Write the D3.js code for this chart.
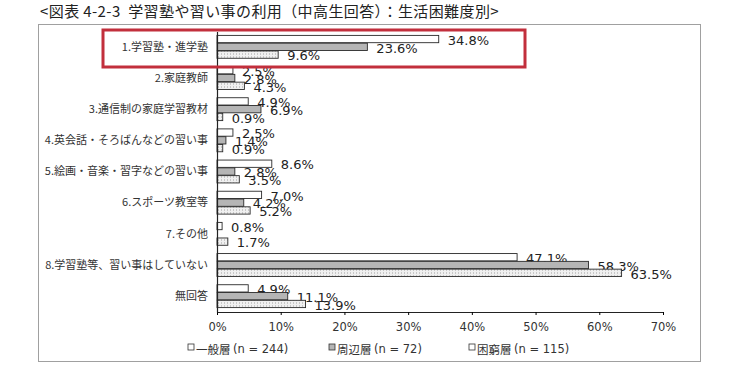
<!DOCTYPE html>
<html>
<head>
<meta charset="utf-8">
<script src="https://cdn.jsdelivr.net/npm/d3@7"></script>
<style>
  body { margin: 0; background: #fff; }
  svg { display: block; }
</style>
</head>
<body>
<div id="chart"></div>
<script>
// Data
const categories = [
  "1.学習塾・進学塾",
  "2.家庭教師",
  "3.通信制の家庭学習教材",
  "4.英会話・そろばんなどの習い事",
  "5.絵画・音楽・習字などの習い事",
  "6.スポーツ教室等",
  "7.その他",
  "8.学習塾等、習い事はしていない",
  "無回答"
];
const seriesGroups = ["一般層", "周辺層", "困窮層"];
const seriesN = ["(n = 244)", "(n = 72)", "(n = 115)"];
const ippan   = [34.8, 2.5, 4.9, 2.5, 8.6, 7.0, 0.8, 47.1, 4.9];
const shuhen  = [23.6, 2.8, 6.9, 1.4, 2.8, 4.2, null, 58.3, 11.1];
const konkyu  = [9.6, 4.3, 0.9, 0.9, 3.5, 5.2, 1.7, 63.5, 13.9];
const xTicks = [0, 10, 20, 30, 40, 50, 60, 70];
const title = "<図表 4-2-3  学習塾や習い事の利用（中高生回答）：生活困難度別>";

const width = 736, height = 378;
const margin = { top: 31.5, left: 217, right: 73, bottom: 66 };
const innerWidth = width - margin.left - margin.right;
const innerHeight = height - margin.top - margin.bottom;

const seriesValues = [ippan, shuhen, konkyu];
const fills = ["#ffffff", "#b5b5b5", "url(#dots)"];

const svg = d3.select("#chart")
  .append("svg")
  .attr("width", width)
  .attr("height", height);

// dotted pattern for the third series
const pat = svg.append("defs").append("pattern")
  .attr("id", "dots")
  .attr("width", 3).attr("height", 3)
  .attr("patternUnits", "userSpaceOnUse");
pat.append("rect").attr("width", 3).attr("height", 3).attr("fill", "#f0f0f0");
pat.append("rect").attr("x", 1).attr("y", 1).attr("width", 1).attr("height", 1).attr("fill", "#a0a0a0");

// title
svg.append("text")
  .attr("x", 40).attr("y", 17)
  .attr("font-family", "'Noto Sans CJK JP', sans-serif")
  .attr("font-size", 15)
  .attr("letter-spacing", 0.4)
  .attr("fill", "#222")
  .attr("xml:space", "preserve")
  .text(title);

// outer frame
svg.append("rect")
  .attr("x", 38.5).attr("y", 24.5)
  .attr("width", 662).attr("height", 337)
  .attr("fill", "none")
  .attr("stroke", "#a0a0a0");

const innerChart = svg.append("g")
  .attr("transform", `translate(${margin.left}, ${margin.top})`);

const xScale = d3.scaleLinear().domain([0, 70]).range([0, innerWidth]);
const yScale = d3.scaleBand().domain(categories).range([0, innerHeight]).paddingInner(0.25).paddingOuter(0.125);
const subScale = d3.scaleBand().domain(d3.range(3)).range([0, yScale.bandwidth()]);

seriesValues.forEach((vals, si) => {
  const rows = vals.map((v, i) => ({ cat: categories[i], v })).filter(d => d.v !== null);
  innerChart.selectAll(`.bar-${si}`)
    .data(rows)
    .join("rect")
      .attr("class", `bar-${si}`)
      .attr("x", 0)
      .attr("y", d => yScale(d.cat) + subScale(si))
      .attr("width", d => xScale(d.v))
      .attr("height", subScale.bandwidth() - 0.5)
      .attr("fill", fills[si])
      .attr("stroke", "#2a2a2a")
      .attr("stroke-width", 0.9);

  innerChart.selectAll(`.lbl-${si}`)
    .data(rows)
    .join("text")
      .attr("class", `lbl-${si}`)
      .attr("x", d => xScale(d.v) + 9)
      .attr("y", d => yScale(d.cat) + subScale(si) + subScale.bandwidth() / 2 + 1)
      .attr("dominant-baseline", "central")
      .attr("font-family", "'DejaVu Sans', sans-serif")
      .attr("font-size", 13)
      .attr("fill", "#222")
      .text(d => d.v.toFixed(1) + "%");
});

// x axis
const bottomAxis = d3.axisBottom(xScale)
  .tickValues(xTicks)
  .tickFormat(d => d + "%")
  .tickSize(3)
  .tickSizeOuter(3);
const xg = innerChart.append("g")
  .attr("transform", `translate(0, ${innerHeight})`)
  .call(bottomAxis);
xg.select(".domain").attr("stroke", "#222");
xg.selectAll("text")
  .attr("font-family", "'DejaVu Sans', sans-serif")
  .attr("font-size", 11.5)
  .attr("fill", "#333")
  .attr("dy", "1.1em");

// y axis
const leftAxis = d3.axisLeft(yScale).tickSize(0).tickPadding(9);
const yg = innerChart.append("g").call(leftAxis);
yg.select(".domain").attr("stroke", "#222").attr("stroke-width", 1.2);
yg.selectAll("text")
  .attr("font-family", "'Noto Sans CJK JP', sans-serif")
  .attr("font-size", 11)
  .attr("fill", "#333");

// legend
const legendX = [188, 329, 469];
const legend = svg.append("g").attr("transform", "translate(0, 349)");
seriesGroups.forEach((name, i) => {
  legend.append("rect")
    .attr("x", legendX[i]).attr("y", -5)
    .attr("width", 6).attr("height", 6)
    .attr("fill", i === 1 ? "#b5b5b5" : "#fff")
    .attr("stroke", "#333").attr("stroke-width", 0.8);
  const t = legend.append("text")
    .attr("x", legendX[i] + 8).attr("y", 0)
    .attr("dominant-baseline", "central")
    .attr("fill", "#333");
  t.append("tspan")
    .attr("font-family", "'Noto Sans CJK JP', sans-serif")
    .attr("font-size", 11.5)
    .text(name + " ");
  t.append("tspan")
    .attr("font-family", "'DejaVu Sans', sans-serif")
    .attr("font-size", 11.5)
    .text(seriesN[i]);
});

// red highlight box
svg.append("rect")
  .attr("x", 103).attr("y", 30)
  .attr("width", 422).attr("height", 37)
  .attr("fill", "none")
  .attr("stroke", "#c22f3c")
  .attr("stroke-width", 3);
</script>
</body>
</html>
